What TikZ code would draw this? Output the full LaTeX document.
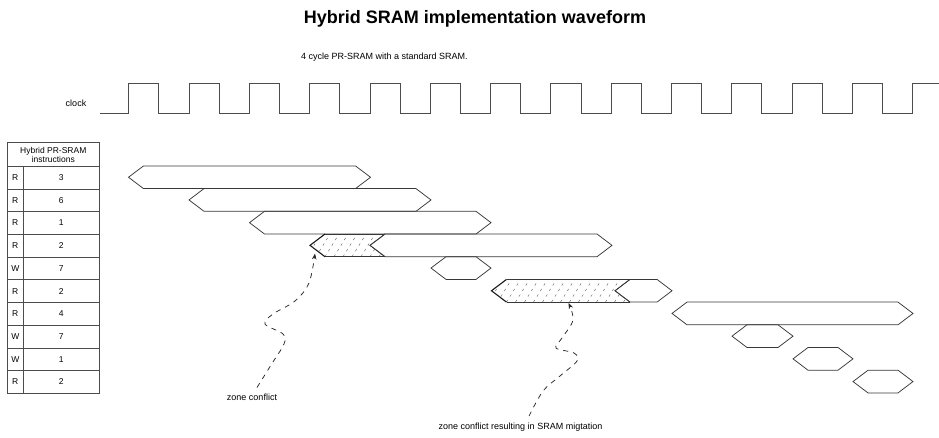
\documentclass[tikz,border=0pt]{standalone}
\usepackage{fontspec}
\setmainfont{Liberation Sans}
\usetikzlibrary{arrows.meta}
\newcommand\rowY[1]{\pgfmathsetmacro\hyT{165.9+22.7*(#1-1)}\pgfmathsetmacro\hyB{\hyT+22.7}\pgfmathsetmacro\hyM{\hyT+11.35}}
\newcommand\hexw[3]{\rowY{#3}%
  \draw[wave] (#1,\hyM) -- ({#1+15},\hyT) -- ({#2-15},\hyT) -- (#2,\hyM) -- ({#2-15},\hyB) -- ({#1+15},\hyB) -- cycle;}
\newcommand\chevhatch[4]{\rowY{#4}%
  \begin{scope}
    \clip (#1,\hyM) -- ({#1+15},\hyT) -- (#2,\hyT) -- (#3,\hyM) -- (#2,\hyB) -- ({#1+15},\hyB) -- cycle;
    \foreach \xx in {0,9,...,160} {\draw[hatch] ({#1-12+\xx},\hyB) -- ++(14,-22.7);}
  \end{scope}
  \draw[wave] (#2,\hyT) -- ({#1+15},\hyT);
  \draw[wave] (#2,\hyB) -- ({#1+15},\hyB);
  \draw[wave, line width=1.1pt, draw=black!90] ({#1+15},\hyT) -- (#1,\hyM) -- ({#1+15},\hyB);
  \draw[wave] (#2,\hyT) -- (#3,\hyM) -- (#2,\hyB);}
\begin{document}
\begin{tikzpicture}[x=1pt,y=-1pt,
  wave/.style={draw=black!78, line width=0.75pt, line join=miter},
  clk/.style={draw=black!70, line width=0.8pt},
  hatch/.style={draw=black!55, line width=0.5pt, dash pattern=on 2.5pt off 4pt},
  conn/.style={draw=black!85, line width=0.75pt, dash pattern=on 5pt off 5pt, -{Stealth[length=6pt,width=4.5pt]}},
  lbl/.style={font=\fontsize{9}{11}\selectfont, inner sep=0pt},
  tbl/.style={draw=black!70, line width=0.7pt},
  cell/.style={font=\fontsize{8.5}{9.5}\selectfont, inner sep=0pt}]
\useasboundingbox (0,0) rectangle (939,437);

% titles
\node[font=\fontsize{18}{20}\selectfont\bfseries, inner sep=0pt, anchor=base] (title) at (475,23) {Hybrid SRAM implementation waveform};
\node[lbl, anchor=base west] (sub) at (301,59) {4 cycle PR-SRAM with a standard SRAM.};

% clock
\node[lbl, anchor=base] (clklbl) at (76,106) {clock};
\draw[clk] (100,113) \foreach \k in {0,...,12} { -- ({128.7+60.3*\k},113) -- ({128.7+60.3*\k},83) -- ({158.85+60.3*\k},83) -- ({158.85+60.3*\k},113) } -- (912.6,113) -- (912.6,83) -- (939,83);

% table
\draw[tbl] (7.3,142.7) rectangle (99.3,393.3);
\foreach \k in {0,...,9} {\draw[tbl] (7.3,{166.3+22.7*\k}) -- (99.3,{166.3+22.7*\k});}
\draw[tbl] (23.3,166.3) -- (23.3,393.3);
\node[cell, align=center] (hdr) at (53.3,155) {Hybrid PR-SRAM\\instructions};
\foreach \op/\v [count=\i from 0] in {R/3,R/6,R/1,R/2,W/7,R/2,R/4,W/7,W/1,R/2} {
  \node[cell] (op\i) at (15.3,{166.3+22.7*(\i+0.5)}) {\op};
  \node[cell] (val\i) at (61.3,{166.3+22.7*(\i+0.5)}) {\v};
}

% waveform hexagons
\hexw{128.5}{370.5}{1}
\hexw{189}{431}{2}
\hexw{249.5}{491}{3}
\chevhatch{310}{385}{370}{4}
\hexw{370}{612}{4}
\hexw{431}{491}{5}
\chevhatch{491.5}{630}{615}{6}
\hexw{615}{672}{6}
\hexw{672}{913}{7}
\hexw{732}{793}{8}
\hexw{793}{853}{9}
\hexw{853}{913}{10}

% annotations
\node[lbl] (zc1) at (252,397) {zone conflict};
\node[lbl] (zc2) at (520.5,427.5) {zone conflict resulting in SRAM migtation};
\coordinate (tip1) at (315,253.5);
\coordinate (tip2) at (568.5,303);
\coordinate (s1) at ([xshift=5pt,yshift=6pt]zc1.north);
\coordinate (s2) at ([xshift=8.5pt,yshift=7pt]zc2.north);
\draw[conn] plot[smooth, tension=0.55] coordinates {(s1) (271,365) (284,344) (283,334) (265,324) (273,314) (295,301) (309,283) (tip1)};
\draw[conn] plot[smooth, tension=0.55] coordinates {(s2) (543,391) (560,376) (577,361) (574,353) (556,348) (562,338) (573,320) (tip2)};
\end{tikzpicture}
\end{document}
